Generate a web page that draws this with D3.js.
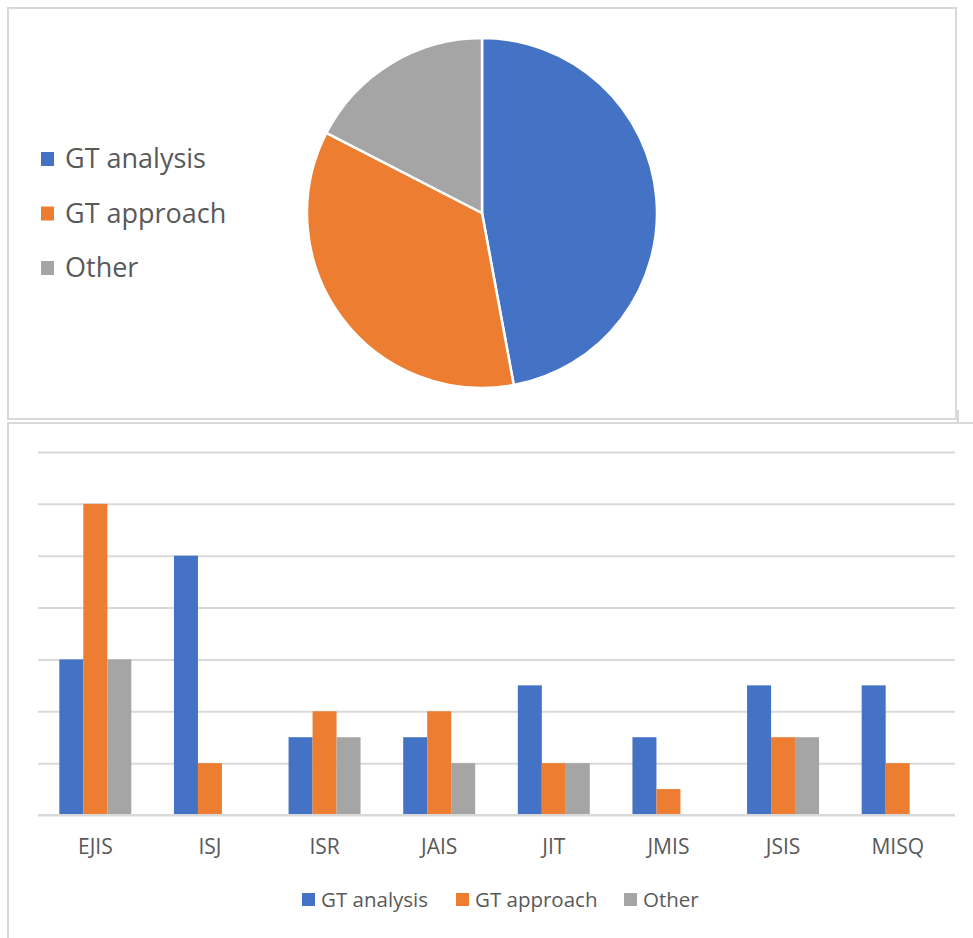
<!DOCTYPE html>
<html>
<head>
<meta charset="utf-8">
<script src="https://cdn.jsdelivr.net/npm/d3@7"></script>
<style>
  html, body { margin: 0; padding: 0; background: #fff; }
  svg { display: block; }
  text { font-family: "Open Sans", "Noto Sans", sans-serif; fill: #595959; }
</style>
</head>
<body>
<div id="chart"></div>
<script>
// series names and colours
var seriesNames = ['GT analysis', 'GT approach', 'Other'];
var seriesColors = ['#4472C4', '#ED7D31', '#A5A5A5'];

// pie totals
var pieValues = [40.5, 30.5, 15];

// bar chart
var journals = ['EJIS', 'ISJ', 'ISR', 'JAIS', 'JIT', 'JMIS', 'JSIS', 'MISQ'];
var gtAnalysis = [6, 10, 3, 3, 5, 3, 5, 5];
var gtApproach = [12, 2, 4, 4, 2, 1, 3, 2];
var other = [6, 0, 3, 2, 2, 0, 3, 0];
var yTicks = [0, 2, 4, 6, 8, 10, 12, 14];

var W = 973, H = 938;
var svg = d3.select('#chart').append('svg')
  .attr('width', W).attr('height', H);

svg.append('rect').attr('width', W).attr('height', H).attr('fill', '#fff');

// panel frames
var frame = svg.append('g').attr('fill', 'none').attr('stroke', '#d9d9d9').attr('stroke-width', 2);
frame.append('rect').attr('x', 8).attr('y', 8).attr('width', 948).attr('height', 411);
frame.append('path').attr('d', 'M8,938 L8,423 L973,423');
frame.append('path').attr('d', 'M958,410 L958,423');

// ---- pie ----
var pie = d3.pie().sort(null).value(function (d) { return d; });
var arc = d3.arc().innerRadius(0).outerRadius(175);

svg.append('g')
  .attr('transform', 'translate(482,213)')
  .selectAll('path')
  .data(pie(pieValues))
  .enter()
  .append('path')
  .attr('d', arc)
  .attr('fill', function (d, i) { return seriesColors[i]; })
  .attr('stroke', '#fff')
  .attr('stroke-width', 2.5);

var pieLegend = svg.append('g');
seriesNames.forEach(function (name, i) {
  var cy = 159 + i * 54.5;
  pieLegend.append('rect')
    .attr('x', 41).attr('y', cy - 7).attr('width', 13).attr('height', 14)
    .attr('fill', seriesColors[i]);
  pieLegend.append('text')
    .attr('x', 65).attr('y', cy)
    .attr('dy', '0.35em')
    .style('font-size', '27px')
    .text(name);
});

// ---- bars ----
var plotLeft = 38, plotRight = 955, plotTop = 452, plotBottom = 815;

var x0 = d3.scaleBand()
  .domain(journals)
  .range([plotLeft, plotRight])
  .paddingInner(0.372)
  .paddingOuter(0.186);

var x1 = d3.scaleBand()
  .domain(d3.range(seriesNames.length))
  .range([0, x0.bandwidth()]);

var y = d3.scaleLinear().domain([0, 14]).range([plotBottom, plotTop]);

var grid = svg.append('g')
  .attr('transform', 'translate(' + plotLeft + ',0)')
  .call(d3.axisLeft(y).tickValues(yTicks).tickSize(-(plotRight - plotLeft)).tickFormat(''));
grid.select('.domain').remove();
grid.selectAll('.tick line').attr('stroke', '#d9d9d9').attr('stroke-width', 2);

var seriesData = [gtAnalysis, gtApproach, other];

var groups = svg.append('g').selectAll('g')
  .data(journals)
  .enter()
  .append('g')
  .attr('transform', function (d) { return 'translate(' + x0(d) + ',0)'; });

groups.selectAll('rect')
  .data(function (d, j) { return seriesData.map(function (s, i) { return { i: i, v: s[j] }; }); })
  .enter()
  .append('rect')
  .attr('x', function (d) { return x1(d.i); })
  .attr('width', x1.bandwidth())
  .attr('y', function (d) { return y(d.v); })
  .attr('height', function (d) { return y(0) - y(d.v); })
  .attr('fill', function (d) { return seriesColors[d.i]; });

// baseline over bars
svg.append('line')
  .attr('x1', plotLeft).attr('x2', plotRight)
  .attr('y1', y(0)).attr('y2', y(0))
  .attr('stroke', '#d9d9d9').attr('stroke-width', 2);

var xAxis = svg.append('g')
  .attr('transform', 'translate(0,' + plotBottom + ')')
  .call(d3.axisBottom(x0).tickSize(0).tickPadding(0));
xAxis.select('.domain').remove();
xAxis.selectAll('text')
  .attr('y', 32)
  .attr('dy', '0.35em')
  .style('font-size', '21px')
  .style('fill', '#595959');

// bottom legend
var legendX = [302, 456, 624];
var barLegend = svg.append('g');
seriesNames.forEach(function (name, i) {
  barLegend.append('rect')
    .attr('x', legendX[i]).attr('y', 893).attr('width', 13).attr('height', 13)
    .attr('fill', seriesColors[i]);
  barLegend.append('text')
    .attr('x', legendX[i] + 19).attr('y', 899.5)
    .attr('dy', '0.35em')
    .style('font-size', '20.5px')
    .text(name);
});
</script>
</body>
</html>
